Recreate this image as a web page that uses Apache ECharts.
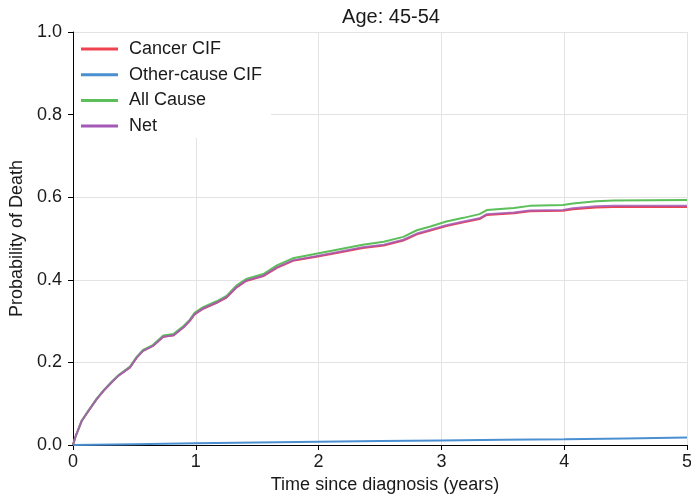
<!DOCTYPE html>
<html>
<head>
<meta charset="utf-8">
<script src="https://cdn.jsdelivr.net/npm/echarts@6/dist/echarts.min.js"></script>
<style>
  html, body { margin: 0; padding: 0; background: #fff; }
  #chart { width: 691px; height: 494px; }
</style>
</head>
<body>
<div id="chart"></div>
<script>
// years since diagnosis
var time = [0, 0.02, 0.07, 0.12, 0.19, 0.245, 0.315, 0.37, 0.464, 0.52, 0.57, 0.65, 0.735, 0.82, 0.90, 0.95, 0.99,
    1.06, 1.17, 1.25, 1.33, 1.41, 1.55, 1.66, 1.79, 1.98, 2.17, 2.36, 2.53, 2.69, 2.80, 2.91, 3.04, 3.18, 3.31, 3.37,
    3.59, 3.72, 3.99, 4.07, 4.26, 4.4, 5.0];
var cancerCif = [0, 0.02, 0.058, 0.08, 0.11, 0.13, 0.152, 0.168, 0.188, 0.212, 0.228, 0.24, 0.262, 0.266, 0.285, 0.300, 0.316,
    0.330, 0.344, 0.357, 0.381, 0.397, 0.409, 0.429, 0.446, 0.456, 0.466, 0.477, 0.483, 0.495, 0.510, 0.519, 0.530, 0.539, 0.547, 0.557,
    0.561, 0.566, 0.567, 0.571, 0.575, 0.576, 0.576];
var allCause = [0, 0.02, 0.058, 0.081, 0.111, 0.131, 0.153, 0.169, 0.190, 0.214, 0.230, 0.242, 0.265, 0.269, 0.288, 0.303, 0.320,
    0.334, 0.348, 0.361, 0.386, 0.402, 0.414, 0.435, 0.452, 0.463, 0.474, 0.485, 0.492, 0.504, 0.520, 0.529, 0.541, 0.550, 0.559, 0.569,
    0.574, 0.579, 0.581, 0.585, 0.590, 0.592, 0.593];
var netSurv = [0, 0.02, 0.058, 0.08, 0.11, 0.13, 0.152, 0.168, 0.188, 0.212, 0.228, 0.24, 0.262, 0.266, 0.285, 0.301, 0.317,
    0.331, 0.345, 0.358, 0.382, 0.398, 0.410, 0.430, 0.447, 0.457, 0.468, 0.479, 0.485, 0.497, 0.512, 0.521, 0.532, 0.541, 0.549, 0.559,
    0.563, 0.568, 0.569, 0.573, 0.578, 0.579, 0.579];
// other-cause CIF is read on its own coarser grid
var otherTime = [0, 0.5, 1, 1.5, 2, 2.5, 3, 3.5, 4, 4.5, 5];
var otherCif = [0, 0.002, 0.004, 0.006, 0.008, 0.0095, 0.011, 0.0125, 0.014, 0.016, 0.018];

var xTicks = [0, 1, 2, 3, 4, 5];

function pairs(xs, ys) {
    return xs.map(function (x, i) { return [x, ys[i]]; });
}

var font = 'Liberation Sans, Arial, Helvetica, sans-serif';
var txt = '#1a1a1a';
var myChart = echarts.init(document.getElementById('chart'));

var option = {
    animation: false,
    backgroundColor: '#fff',
    title: {
        text: 'Age: 45-54',
        left: 386,
        textAlign: 'center',
        top: 2,
        textStyle: { fontFamily: font, fontSize: 20, fontWeight: 'normal', color: txt }
    },
    legend: {
        orient: 'vertical',
        left: 74,
        top: 33,
        icon: 'rect',
        itemWidth: 37,
        itemHeight: 3,
        itemGap: 5.7,
        padding: [6, 9, 2, 7],
        backgroundColor: '#fff',
        textStyle: { fontFamily: font, fontSize: 18, color: txt, lineHeight: 20, padding: [0, 0, 0, 6] },
        data: ['Cancer CIF', 'Other-cause CIF', 'All Cause', 'Net']
    },
    grid: { left: 73, right: 4, top: 32, bottom: 49, containLabel: false, outerBoundsMode: 'none' },
    xAxis: {
        type: 'value',
        min: 0,
        max: 5,
        interval: 1,
        name: 'Time since diagnosis (years)',
        nameLocation: 'middle',
        nameGap: 27,
        nameTextStyle: { fontFamily: font, fontSize: 18, color: txt, padding: [0, 0, 0, 10] },
        axisLine: { lineStyle: { color: '#000', width: 1 } },
        axisTick: { length: 5, lineStyle: { color: '#000' } },
        axisLabel: {
            fontFamily: font, fontSize: 18, color: txt, margin: 8,
            formatter: function (v) { return xTicks.indexOf(v) >= 0 ? String(v) : ''; }
        },
        splitLine: { show: true, lineStyle: { color: '#e3e3e3', width: 1 } }
    },
    yAxis: {
        type: 'value',
        min: 0,
        max: 1,
        interval: 0.2,
        name: 'Probability of Death',
        nameLocation: 'middle',
        nameGap: 47,
        nameTextStyle: { fontFamily: font, fontSize: 18, color: txt },
        axisLine: { show: true, lineStyle: { color: '#000', width: 1 } },
        axisTick: { show: true, length: 5, lineStyle: { color: '#000' } },
        axisLabel: {
            fontFamily: font, fontSize: 18, color: txt, margin: 11,
            formatter: function (v) { return v.toFixed(1); }
        },
        splitLine: { show: true, lineStyle: { color: '#e3e3e3', width: 1 } }
    },
    series: [
        {
            name: 'Cancer CIF', type: 'line', showSymbol: false,
            lineStyle: { color: '#ef4450', width: 2 }, itemStyle: { color: '#ef4450' },
            data: pairs(time, cancerCif)
        },
        {
            name: 'Other-cause CIF', type: 'line', showSymbol: false,
            lineStyle: { color: '#4a8fd0', width: 2 }, itemStyle: { color: '#4a8fd0' },
            data: pairs(otherTime, otherCif)
        },
        {
            name: 'All Cause', type: 'line', showSymbol: false,
            lineStyle: { color: '#5cbf5a', width: 2 }, itemStyle: { color: '#5cbf5a' },
            data: pairs(time, allCause)
        },
        {
            name: 'Net', type: 'line', showSymbol: false,
            lineStyle: { color: '#a35ab6', width: 2, opacity: 0.85 }, itemStyle: { color: '#a35ab6' },
            data: pairs(time, netSurv)
        }
    ]
};
myChart.setOption(option);
</script>
</body>
</html>
